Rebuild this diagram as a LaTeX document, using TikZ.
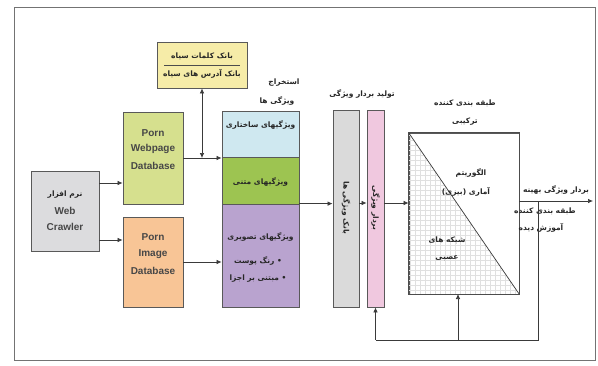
\documentclass[tikz,border=0pt]{standalone}
\usepackage{fontspec}
\setmainfont{Liberation Sans}
\newfontfamily\fa[Script=Arabic]{DejaVu Sans}
\TeXXeTstate=1
\usetikzlibrary{arrows.meta,calc}
\newcommand{\rl}[1]{\beginR #1\endR}
\definecolor{crawlc}{HTML}{DCDCDE}
\definecolor{webc}{HTML}{D6E08E}
\definecolor{imgc}{HTML}{F8C596}
\definecolor{blackc}{HTML}{F6ECA8}
\definecolor{structc}{HTML}{CFE8F0}
\definecolor{textc}{HTML}{9DC451}
\definecolor{imfc}{HTML}{B9A3CF}
\definecolor{grayc}{HTML}{DADADA}
\definecolor{pinkc}{HTML}{F0C8DF}
\definecolor{linec}{HTML}{3A3A3A}
\begin{document}
\begin{tikzpicture}[x=1pt,y=-1pt,
  box/.style={draw=black!65, line width=0.8pt, inner sep=0pt},
  arr/.style={-{Latex[length=5pt,width=4.5pt]}, line width=0.7pt, draw=linec},
  ln/.style={line width=0.7pt, draw=linec},
  fat/.style={font=\fa\bfseries\fontsize{7.5}{9}\selectfont, text=black!85, inner sep=0pt},
  ent/.style={font=\bfseries\fontsize{10}{12}\selectfont, text=black!72, inner sep=0pt}]
\useasboundingbox (0,0) rectangle (598,365);
\fill[white] (0,0) rectangle (598,365);
\draw[draw=black!55, line width=0.8pt] (14,7) rectangle (595,360);

% boxes
\node[box, fill=crawlc, minimum width=68pt, minimum height=80pt] (crawler) at (65,211) {};
\node[box, fill=webc, minimum width=60pt, minimum height=92pt] (web) at (153,158) {};
\node[box, fill=imgc, minimum width=60pt, minimum height=90pt] (img) at (153,262) {};
\node[box, fill=blackc, minimum width=90pt, minimum height=46pt] (black) at (202,65) {};
\node[box, fill=structc, minimum width=77pt, minimum height=46pt] (featS) at (260.5,134) {};
\node[box, fill=textc, minimum width=77pt, minimum height=47pt] (featT) at (260.5,180.5) {};
\node[box, fill=imfc, minimum width=77pt, minimum height=103pt] (featI) at (260.5,255.5) {};
\node[box, fill=grayc, minimum width=26pt, minimum height=197pt] (gbar) at (346,208.5) {};
\node[box, fill=pinkc, minimum width=17pt, minimum height=197pt] (pbar) at (375.5,208.5) {};
\node[box, fill=white, minimum width=110pt, minimum height=161pt] (clf) at (464,213.5) {};

% grid in lower-left triangle of classifier
\begin{scope}
\clip (clf.north west) -- (clf.south east) -- (clf.south west) -- cycle;
\draw[black!12, line width=0.3pt] (clf.north west) grid[step=5pt] (clf.south east);
\end{scope}
\draw[ln] (clf.north west) -- (clf.south east);
\draw[draw=black!70, line width=0.9pt] (clf.north west) rectangle (clf.south east);

% blacklist separator
\coordinate (sepL) at (164,65);
\coordinate (sepR) at (240,65);
\draw[line width=0.6pt, black!70] (sepL) -- (sepR);

% texts: crawler
\node[fat] (crT1) at (65,195) {\rl{نرم افزار}};
\node[ent] (crT2) at (65,211) {Web};
\node[ent] (crT3) at (65,227) {Crawler};
% web db
\node[ent] (wbT1) at (153,133) {Porn};
\node[ent] (wbT2) at (153,149) {Webpage};
\node[ent] (wbT3) at (153,166) {Database};
% image db
\node[ent] (imT1) at (153,237) {Porn};
\node[ent] (imT2) at (153,254) {Image};
\node[ent] (imT3) at (153,271) {Database};
% blacklist
\node[fat] (blT1) at (202,56) {\rl{بانک کلمات سیاه}};
\node[fat] (blT2) at (202,74) {\rl{بانک آدرس های سیاه}};
% feature extraction label
\node[fat] (feL1) at (284,83) {\rl{استخراج}};
\node[fat] (feL2) at (277,101) {\rl{ویژگی ها}};
\node[fat] (fsT) at (260.5,125) {\rl{ویژگیهای ساختاری}};
\node[fat] (ftT) at (260.5,182) {\rl{ویژگیهای متنی}};
\node[fat] (fiT1) at (260.5,237) {\rl{ویژگیهای تصویری}};
\node[fat] (fiT2) at (258,261) {\rl{• رنگ پوست}};
\node[fat] (fiT3) at (258,279) {\rl{• مبتنی بر اجزا}};
% bars
\node[fat, rotate=-90] (gbT) at (346,208) {\rl{بانک ویژگی ها}};
\node[fat, rotate=-90] (pbT) at (375.5,208) {\rl{بردار ویژگی}};
\node[fat] (vecL) at (362,94) {\rl{تولید بردار ویژگی}};
% classifier
\node[fat] (clL1) at (465,103) {\rl{طبقه بندی کننده}};
\node[fat] (clL2) at (465,122) {\rl{ترکیبی}};
\node[fat] (clT1) at (471,173) {\rl{الگوریتم}};
\node[fat] (clT2) at (466,192) {\rl{آماری (بیزی)}};
\node[fat] (clT3) at (447,240) {\rl{شبکه های}};
\node[fat] (clT4) at (447,258) {\rl{عصبی}};
% output texts
\node[fat] (outT1) at (556,190) {\rl{بردار ویژگی بهینه}};
\node[fat] (outT2) at (545,211) {\rl{طبقه بندی کننده}};
\node[fat] (outT3) at (541,228) {\rl{آموزش دیده}};

% connectors
\coordinate (cr1) at (crawler.east |- 0,183);
\coordinate (cr2) at (crawler.east |- 0,240);
\draw[arr] (cr1) -- (cr1 -| web.west);
\draw[arr] (cr2) -- (cr2 -| img.west);
\draw[arr] (web.east) -- (web.east -| featS.west);
\draw[{Latex[length=5pt,width=4.5pt]}-{Latex[length=5pt,width=4.5pt]}, line width=0.7pt, draw=linec] (black.south) -- (black.south |- web.east);
\draw[arr] (img.east) -- (img.east -| featI.west);
\coordinate (f1) at (featI.north east);
\draw[arr] (f1) -- (f1 -| gbar.west);
\coordinate (g1) at (gbar.east |- 0,203);
\draw[arr] (g1) -- (g1 -| pbar.west);
\coordinate (p1) at (pbar.east |- 0,203);
\draw[arr] (p1) -- (p1 -| clf.west);
\coordinate (c1) at (clf.east |- 0,201);
\coordinate (out) at (593,201);
\draw[arr] (c1) -- (out);
% feedback
\coordinate (fbTop) at (538,201);
\coordinate (fbCorner) at (538,340);
\coordinate (fbClf) at (458,340);
\coordinate (clfIn) at (458,294);
\draw[ln] (fbTop) -- (fbCorner) -- (fbCorner -| pbar.south);
\draw[arr] (fbCorner -| pbar.south) -- (pbar.south);
\draw[arr] (fbClf) -- (clfIn);
\end{tikzpicture}
\end{document}
